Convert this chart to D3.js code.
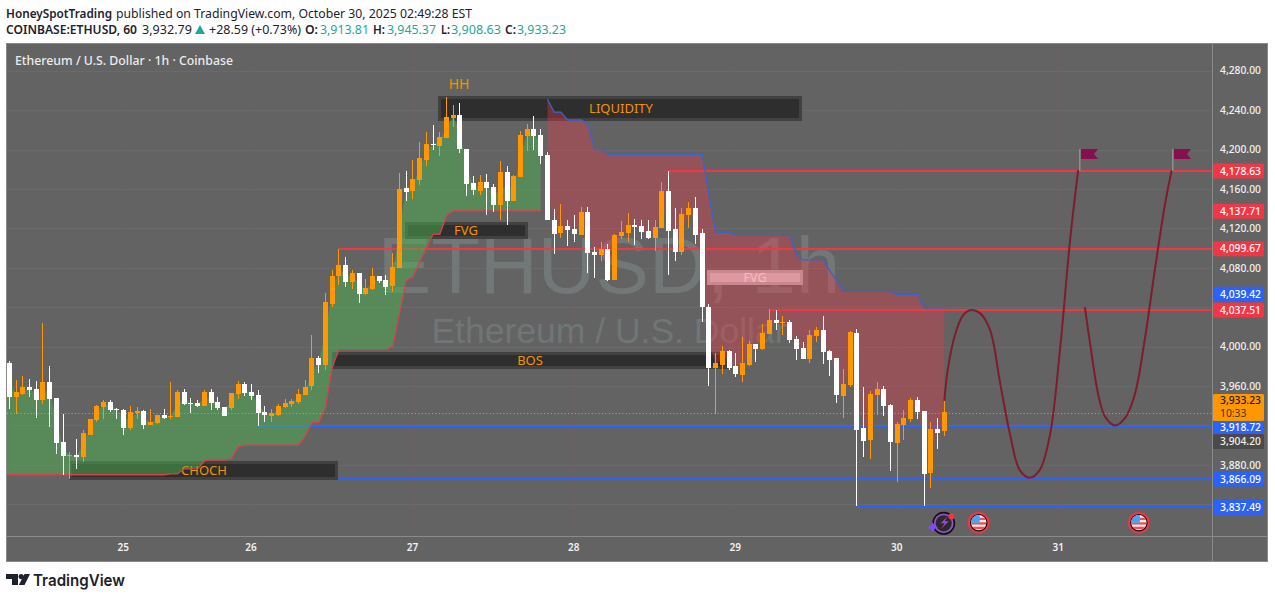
<!DOCTYPE html>
<html><head><meta charset="utf-8">
<script src="https://cdn.jsdelivr.net/npm/d3@7"></script>
<style>html,body{margin:0;padding:0;background:#fff;overflow:hidden}svg{display:block}text{font-family:"Noto Sans",sans-serif}</style>
</head><body><div id="chart"></div>
<script>
const opens=[3983,3949,3952,3959,3957,3946,3964,3948,3903,3889,
3890,3888,3911,3926,3939,3944,3937,3936,3918,3933,
3935,3921,3923,3931,3929,3929,3954,3943,3943,3940,
3954,3944,3939,3938,3952,3962,3954,3951,3934,3930,
3931,3939,3942,3944,3951,3960,3988,3981,4044,4072,
4083,4066,4075,4054,4059,4072,4068,4062,4080,4161,
4158,4169,4190,4206,4204,4212,4232,4235,4201,4166,
4158,4167,4162,4144,4177,4148,4172,4214,4221,4215,
4194,4129,4115,4122,4119,4114,4137,4096,4093,4099,
4067,4112,4115,4123,4122,4117,4110,4120,4158,4119,
4096,4134,4141,4115,4040,3978,3982,3996,3980,3971,
3982,4003,3998,4013,4027,4024,4025,4008,3999,3988,
4011,4017,3996,3988,3950,3961,4014,3917,3905,3951,
3957,3941,3903,3921,3927,3946,3935,3871,3916,3913.81];
const highs=[3985,3966,3970,3967,3965,4024,3980,3948,3932,3893,
3906,3915,3927,3941,3946,3946,3938,3937,3940,3939,
3936,3937,3931,3937,3964,3956,3957,3948,3946,3956,
3957,3949,3939,3953,3965,3964,3962,3956,3940,3937,
3942,3947,3947,3957,3966,4012,3991,4054,4078,4099,
4091,4078,4075,4069,4080,4072,4073,4095,4176,4178,
4189,4208,4218,4225,4218,4253,4245,4247,4201,4173,
4174,4175,4165,4188,4183,4174,4219,4226,4234,4221,
4197,4140,4145,4129,4134,4142,4142,4101,4106,4104,
4114,4127,4136,4130,4128,4128,4129,4167,4178,4141,
4141,4147,4152,4119,4043,3994,4001,3997,3994,4010,
4006,4003,4023,4038,4037,4031,4027,4011,4005,4017,
4020,4031,3997,3988,3977,4016,4018,3959,3955,3964,
3960,3942,3924,3936,3948,3949,3935,3924,3928,3945.37];
const lows=[3936,3931,3951,3949,3927,3942,3918,3891,3870,3866,
3876,3883,3911,3924,3927,3934,3927,3911,3916,3927,
3917,3921,3922,3927,3926,3929,3941,3933,3939,3940,
3936,3936,3930,3936,3947,3950,3946,3919,3924,3924,
3930,3938,3939,3942,3951,3956,3974,3976,4040,4062,
4061,4059,4045,4053,4058,4065,4053,4055,4080,4148,
4149,4164,4183,4200,4194,4211,4223,4196,4153,4154,
4154,4133,4137,4128,4123,4148,4172,4199,4200,4185,
4128,4094,4110,4103,4107,4114,4075,4070,4087,4066,
4067,4109,4107,4104,4109,4109,4098,4120,4072,4087,
4093,4121,4104,4025,3960,3932,3973,3977,3970,3964,
3981,3985,3997,4013,4017,4012,4004,3987,3988,3984,
4005,3982,3971,3942,3927,3959,3838,3888,3886,3931,
3930,3874,3863,3906,3924,3927,3839,3857,3897,3908.63];
const closes=[3949,3954,3959,3956,3946,3964,3947,3902,3889,3890,
3888,3912,3927,3940,3944,3936,3936,3918,3934,3935,
3921,3924,3931,3928,3930,3954,3942,3942,3940,3954,
3943,3938,3930,3953,3962,3953,3950,3933,3931,3933,
3940,3943,3945,3952,3959,3988,3981,4045,4072,4083,
4066,4075,4054,4060,4072,4067,4061,4081,4160,4157,
4170,4191,4206,4205,4213,4233,4235,4201,4165,4159,
4167,4161,4144,4177,4148,4173,4215,4221,4214,4194,
4128,4115,4122,4118,4114,4137,4095,4093,4099,4068,
4113,4116,4123,4121,4116,4110,4121,4158,4117,4096,
4135,4141,4114,4040,3978,3983,3996,3979,3972,3983,
4003,3998,4014,4027,4024,4025,4007,3998,3988,4012,
4017,3995,3987,3950,3962,4015,3916,3904,3952,3957,
3940,3903,3922,3928,3946,3934,3871,3916,3912,3933.23];
const trendUp=[3870,3870,3870,3870,3870,3870,3870,3870,3870,3870,
3870,3870,3870,3870,3870,3870,3870,3870,3870,3870,
3870,3870,3870,3870,3871,3871,3876,3876,3876,3884,
3885,3885,3885,3886,3898,3900,3900,3900,3900,3900,
3900,3900,3900,3900,3909,3923,3923,3938,3979,3997,
3997,3997,3997,3997,3997,3997,3997,4000,4033,4067,
4071,4086,4100,4114,4114,4133,4137.71,4137.71,4137.71,4137.71,
4137.71,4137.71,4137.71,4137.71,4137.71,4137.71,4137.71,4137.71,4137.71,4137.71];
const trendDown=[4251,4238,4238,4230,4230,4230,4226,4200,4200,4195,
4195,4195,4195,4195,4195,4195,4195,4195,4195,4195,
4195,4195,4195,4195,4155,4116,4116,4116,4113,4113,
4113,4113,4113,4113,4113,4113,4113,4094,4088,4088,
4088,4088,4077,4067,4056,4056,4056,4056,4056,4056,
4056,4056,4053,4053,4053,4053,4039.42,4039.42,4039.42,4039.42];
const priceTicks=[4280,4240,4200,4160,4120,4080,4000,3960,3880];
const gridPrices=[4280,4240,4200,4160,4120,4080,4040,4000,3960,3920,3880,3840];
const dayIdx=[17,36,60,84,108,132,156];
const dayLabels=["25","26","27","28","29","30","31"];
const levelPrices=[4178.63,4099.67,4037.51,3918.72,3866.09,3837.49];
const levelStarts=[98,49,113,37,9,126];
const levelColors=["#f23645","#f23645","#f23645","#2962ff","#2962ff","#2962ff"];
const curve1Idx=[139,139.5,140.6,141.7,142.8,144.3,145.8,147.3,148.8,150.2,151.7,153.2,154.7,156.2,157.7,158.9];
const curve1Price=[3945,3976,4012,4031,4037,4034,4017,3963,3910,3875,3867,3875,3910,3997,4108,4179];
const curve2Idx=[159.9,160.7,161.9,162.9,164.4,165.9,167.3,168.8,170.3,171.8,172.8];
const curve2Price=[4040,4002,3951,3929,3920,3928,3951,4007,4078,4144,4179];
const lastPrice=3933.23;
const sideLabels=["4,178.63","4,137.71","4,099.67","4,039.42","4,037.51","3,918.72","3,866.09","3,837.49"];
const sidePrices=[4178.63,4137.71,4099.67,4039.42,4037.51,3918.72,3866.09,3837.49];
const sideColors=["#f23645","#f23645","#f23645","#2962ff","#f23645","#2962ff","#2962ff","#2962ff"];
const sideShift=[0,0,0,-14,0,0,0,0];
const flagIdx=[159,172.9];
const eventFlagIdx=[144,168];

const W=1275,H=599;
const pane={l:6,t:43,r:1268,b:562,ax:1212,tb:536};
const x=d3.scaleLinear().domain([0,139]).range([9.3,944.3]);
const y=d3.scaleLinear().domain([3837.49,4280]).range([506.8,70.7]);
const svg=d3.select("#chart").append("svg").attr("width",W).attr("height",H);
const defs=svg.append("defs");
defs.append("clipPath").attr("id","pc").append("rect").attr("x",7).attr("y",44).attr("width",pane.ax-7).attr("height",pane.tb-44);

// header
const hdr=svg.append("g").attr("fill","#1e222d");
function t(g,s,px,py,len,o){const e=g.append("text").attr("x",px).attr("y",py).attr("textLength",len).attr("lengthAdjust","spacingAndGlyphs").attr("font-size",(o&&o.fs)||13).attr("font-weight",(o&&o.w)||400).attr("fill",(o&&o.c)||"#1e222d").text(s);return e;}
t(hdr,"HoneySpotTrading",6,18,106,{w:600});
t(hdr,"published on TradingView.com, October 30, 2025 02:49:28 EST",116,18,356);
t(hdr,"COINBASE:ETHUSD, 60",6,34,131,{w:600});
t(hdr,"3,932.79",142,34,50);
hdr.append("path").attr("d","M195,34 L205,34 L200,25 Z").attr("fill","#26a69a");
t(hdr,"+28.59 (+0.73%)",209,34,92);
const teal="#26a69a";
t(hdr,"O:",305,34,13,{w:600});t(hdr,"3,913.81",320,34,49,{c:teal});
t(hdr,"H:",373,34,12,{w:600});t(hdr,"3,945.37",387,34,49,{c:teal});
t(hdr,"L:",441,34,9,{w:600});t(hdr,"3,908.63",451,34,50,{c:teal});
t(hdr,"C:",505,34,11,{w:600});t(hdr,"3,933.23",517,34,49,{c:teal});

// pane
svg.append("rect").attr("x",pane.l).attr("y",pane.t).attr("width",pane.r-pane.l).attr("height",pane.b-pane.t).attr("fill","#636363");
const plot=svg.append("g").attr("clip-path","url(#pc)");
// grid
plot.selectAll("line.g").data(gridPrices).join("line").attr("x1",7).attr("x2",pane.ax).attr("y1",d=>Math.round(y(d))+.5).attr("y2",d=>Math.round(y(d))+.5).attr("stroke","#6a6a6a").attr("stroke-width",1);
plot.selectAll("line.v").data(dayIdx).join("line").attr("x1",d=>Math.floor(x(d))+.5).attr("x2",d=>Math.floor(x(d))+.5).attr("y1",44).attr("y2",pane.tb).attr("stroke","#686064").attr("stroke-width",1);
// watermark
plot.append("text").attr("x",609).attr("y",293).attr("text-anchor","middle").attr("font-size",80).style("font-family","'Liberation Sans',sans-serif").attr("fill","#727878").text("ETHUSD, 1h");
plot.append("text").attr("x",609).attr("y",343).attr("text-anchor","middle").attr("font-size",35.5).style("font-family","'Liberation Sans',sans-serif").attr("fill","#707676").text("Ethereum / U.S. Dollar");
// levels
plot.selectAll("line.l").data(levelPrices).join("line").attr("x1",(d,i)=>x(levelStarts[i])).attr("x2",pane.ax).attr("y1",d=>Math.round(y(d)+.4)).attr("y2",d=>Math.round(y(d)+.4)).attr("stroke",(d,i)=>levelColors[i]).attr("stroke-width",2);
// boxes under fill
const boxes=[[438,96,802,121,"LIQUIDITY",621],[405,222,528,239,"FVG",466],[332,352,728,369,"BOS",530],[69,461,338,480,"CHOCH",204]];
boxes.forEach(b=>{
 plot.append("rect").attr("x",b[0]+1.5).attr("y",b[1]+1.5).attr("width",b[2]-b[0]-3).attr("height",b[3]-b[1]-3).attr("fill","#2e2e2e").attr("stroke","#414141").attr("stroke-width",3);
 plot.append("text").attr("x",b[5]).attr("y",(b[1]+b[3])/2+4.5).attr("text-anchor","middle").attr("font-size",13).attr("fill","#ff9800").attr("opacity",.95).text(b[4]);
});
plot.append("text").attr("x",459).attr("y",88.5).attr("text-anchor","middle").attr("font-size",14).attr("fill","#ff9800").attr("opacity",.9).text("HH");
// fills
const mid=i=>(opens[i]+closes[i])/2;
const upIdx=d3.range(0,80),dnIdx=d3.range(80,140);
const areaFn=(trend,off)=>d3.area().x(i=>x(i)).y0(i=>y(trend[i-off])).y1(i=>y(mid(i)));
plot.append("path").attr("d",areaFn(trendUp,0)(upIdx)).attr("fill","#4caf50").attr("fill-opacity",.5);
plot.append("rect").attr("x",7).attr("y",y(mid(0))).attr("width",x(0)-7).attr("height",y(trendUp[0])-y(mid(0))).attr("fill","#4caf50").attr("fill-opacity",.5);
plot.append("path").attr("d",areaFn(trendDown,80)(dnIdx)).attr("fill","#f23645").attr("fill-opacity",.35);
plot.append("line").attr("x1",7).attr("x2",x(0)).attr("y1",y(trendUp[0])).attr("y2",y(trendUp[0])).attr("stroke","#d8404e").attr("stroke-width",1.3);
plot.append("path").attr("d",d3.line().x(i=>x(i)).y(i=>y(trendUp[i]))(upIdx)).attr("fill","none").attr("stroke","#d8404e").attr("stroke-width",1.3);
plot.append("path").attr("d",d3.line().x(i=>x(i)).y(i=>y(trendDown[i-80]))(dnIdx)).attr("fill","none").attr("stroke","#3c62cc").attr("stroke-width",1.3);
// pink FVG
plot.append("rect").attr("x",708.5).attr("y",271.5).attr("width",93).attr("height",12).attr("fill","#de98a0").attr("stroke","#c98890").attr("stroke-width",3);
plot.append("text").attr("x",755).attr("y",282).attr("text-anchor","middle").attr("font-size",12.5).attr("fill","#fbb9bf").text("FVG");
// last price line
const yl=Math.round(y(lastPrice))+1.5;
plot.append("line").attr("x1",7).attr("x2",pane.ax).attr("y1",yl).attr("y2",yl).attr("stroke","#ff9800").attr("stroke-dasharray","1 2.4");
// candles
const idx=d3.range(opens.length);
const cg=plot.append("g").attr("shape-rendering","crispEdges");
const col=i=>closes[i]>=opens[i]?"#ff9800":"#ffffff";
cg.selectAll("rect.w").data(idx).join("rect").attr("x",i=>Math.floor(x(i))).attr("width",1).attr("y",i=>Math.round(y(highs[i]))).attr("height",i=>Math.max(1,Math.round(y(lows[i])-y(highs[i])))).attr("fill",col);
cg.selectAll("rect.b").data(idx).join("rect").attr("x",i=>Math.floor(x(i))-2).attr("width",5).attr("y",i=>Math.round(y(Math.max(opens[i],closes[i])))).attr("height",i=>Math.max(1,Math.round(Math.abs(y(opens[i])-y(closes[i]))))).attr("fill",col);
// forecast curves
const cl=d3.line().x(d=>x(d[0])).y(d=>y(d[1])).curve(d3.curveCatmullRom.alpha(.5));
plot.append("path").attr("d",cl(curve1Idx.map((v,i)=>[v,curve1Price[i]]))).attr("fill","none").attr("stroke","#7f1d2b").attr("stroke-width",2);
plot.append("path").attr("d",cl(curve2Idx.map((v,i)=>[v,curve2Price[i]]))).attr("fill","none").attr("stroke","#7f1d2b").attr("stroke-width",2);
// flags
flagIdx.forEach(v=>{
 const px=Math.round(x(v)),top=149;
 plot.append("rect").attr("x",px).attr("y",top).attr("width",1.5).attr("height",22).attr("fill","#8e8e8e");
 plot.append("path").attr("d",`M${px+2},${top} h17 l-4,5 l4,5 h-17 Z`).attr("fill","#880e4f");
});
// events
eventFlagIdx.forEach((v,k)=>{
 const cx=x(v)+(k?-.5:0.8),cy=522.7,id="f"+k;
 defs.append("clipPath").attr("id",id).append("circle").attr("cx",cx).attr("cy",cy).attr("r",7.6);
 plot.append("circle").attr("cx",cx).attr("cy",cy).attr("r",9.8).attr("fill","#111").attr("stroke","#f23645").attr("stroke-width",2);
 const g=plot.append("g").attr("clip-path",`url(#${id})`);
 g.append("rect").attr("x",cx-8).attr("y",cy-8).attr("width",16).attr("height",16).attr("fill","#f7f7f7");
 [-5,-.5,4].forEach(o=>g.append("rect").attr("x",cx-8).attr("y",cy+o).attr("width",16).attr("height",2.4).attr("fill","#ef5350"));
 g.append("rect").attr("x",cx-8).attr("y",cy-8).attr("width",9).attr("height",8).attr("fill","#42a5f5");
});
const lx=x(139)-1.6,ly=523.3;
plot.append("circle").attr("cx",lx+1).attr("cy",ly).attr("r",10.5).attr("fill","#222").attr("stroke","#111").attr("stroke-width",2);
plot.append("circle").attr("cx",lx+1).attr("cy",ly).attr("r",9).attr("fill","#2a2a2a").attr("stroke","#9c4dcc").attr("stroke-width",1.8);
plot.append("path").attr("d",`M${lx+5},${ly-7} l-7,7 h4 l-4,6 l8,-8 h-4 l3,-5 Z`).attr("fill","#9c4dcc");
plot.append("circle").attr("cx",lx+8.7).attr("cy",ly-6.8).attr("r",3).attr("fill","#f23645");
plot.append("path").attr("d",`M${lx-10},${ly-1} l1.8,3.4 l3.4,1.6 l-3.4,1.6 l-1.8,3.4 l-1.8,-3.4 l-3.4,-1.6 l3.4,-1.6 Z`).attr("fill","#7c4dff");
// title
plot.append("text").attr("x",15).attr("y",65).attr("textLength",218).attr("lengthAdjust","spacingAndGlyphs").attr("font-size",13).attr("font-weight",500).attr("fill","#ececec").text("Ethereum / U.S. Dollar · 1h · Coinbase");

// axes frame
svg.append("rect").attr("x",pane.l+.5).attr("y",pane.t+.5).attr("width",pane.r-pane.l-1).attr("height",pane.b-pane.t-1).attr("fill","none").attr("stroke","#8a8a8a");
svg.append("line").attr("x1",pane.ax+.5).attr("x2",pane.ax+.5).attr("y1",pane.t).attr("y2",pane.b).attr("stroke","#8a8a8a");
svg.append("line").attr("x1",pane.l).attr("x2",pane.r).attr("y1",pane.tb+.5).attr("y2",pane.tb+.5).attr("stroke","#8a8a8a");
const yAx=svg.append("g").attr("transform",`translate(${pane.ax},0)`).call(d3.axisRight(y).tickValues(priceTicks).tickFormat(d3.format(",.2f")).tickSize(0).tickPadding(8));
yAx.select(".domain").remove();
yAx.selectAll("text").attr("fill","#f2f2f2").attr("font-size",10.3).attr("font-weight",500).style("font-family","'Noto Sans',sans-serif");
const xAx=svg.append("g").attr("transform",`translate(-1,${pane.tb})`).call(d3.axisBottom(x).tickValues(dayIdx).tickFormat((d,i)=>dayLabels[i]).tickSize(0).tickPadding(8));
xAx.select(".domain").remove();
xAx.selectAll("text").attr("fill","#f2f2f2").attr("font-size",10).attr("font-weight",600).style("font-family","'Noto Sans',sans-serif");
// side labels
function tag(cy,txt,fill,tc){
 svg.append("rect").attr("x",1213).attr("y",cy-7.5).attr("width",51).attr("height",15).attr("rx",1.5).attr("fill",fill);
 svg.append("text").attr("x",1220).attr("y",cy+3.6).attr("font-size",10.3).attr("font-weight",500).attr("fill",tc||"#fff").text(txt);
}
sidePrices.forEach((p,i)=>tag(y(p)+sideShift[i]+.4,sideLabels[i],sideColors[i]));
tag(y(3904.2)+.4,"3,904.20","#4a4a4a","#eee");
const yo=y(lastPrice);
svg.append("rect").attr("x",1213).attr("y",yo-18.5).attr("width",51).attr("height",27).attr("rx",1.5).attr("fill","#ff9800");
svg.append("text").attr("x",1220).attr("y",yo-8).attr("font-size",10.3).attr("font-weight",500).attr("fill","#1a1a1a").text("3,933.23");
svg.append("text").attr("x",1220).attr("y",yo+4.2).attr("font-size",10.3).attr("fill","#4a3300").text("10:33");

// logo
const lg=svg.append("g").attr("fill","#1e222d");
lg.append("path").attr("d","M6,574 H18 V585 H12 V579 H6 Z");
lg.append("circle").attr("cx",21.2).attr("cy",576.6).attr("r",2.6);
lg.append("path").attr("d","M24.5,574 H30 L24.5,585 H18.8 Z");
svg.append("text").attr("x",33).attr("y",586).attr("textLength",92).attr("lengthAdjust","spacingAndGlyphs").attr("font-size",16.5).attr("font-weight",600).style("font-family","Inter,sans-serif").attr("fill","#1e222d").text("TradingView");
</script></body></html>
